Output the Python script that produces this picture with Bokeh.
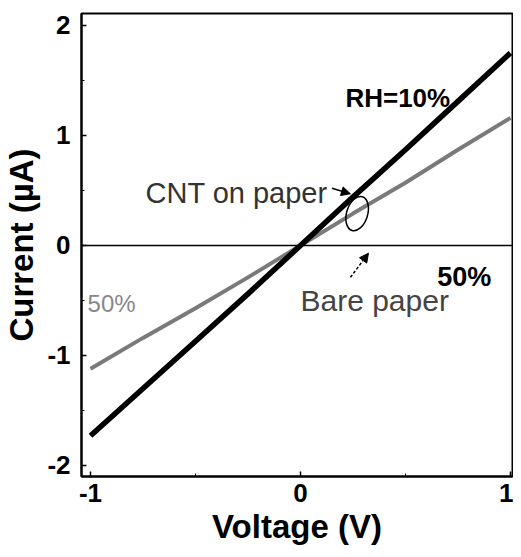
from bokeh.plotting import figure
from bokeh.models import Span, Label, Arrow, NormalHead, FixedTicker, Range1d
from bokeh.embed import file_html
from bokeh.resources import INLINE

# data
voltage = [-1.0, -0.75, -0.5, -0.25, 0.0, 0.25, 0.5, 0.75, 1.0]
current_rh10 = [-1.73, -1.30, -0.87, -0.44, 0.0, 0.44, 0.87, 1.31, 1.75]
current_rh50 = [-1.12, -0.84, -0.57, -0.29, 0.0, 0.29, 0.57, 0.87, 1.16]
x_ticks = [-1, 0, 1]
y_ticks = [-2, -1, 0, 1, 2]
x_minor = [-0.5, 0.5]
y_minor = [-1.5, -0.5, 0.5, 1.5]

FONT = "Liberation Sans"

p = figure(width=513, height=549, output_backend="svg", toolbar_location=None,
           x_range=Range1d(-1.043, 1.01), y_range=Range1d(-2.1, 2.109),
           min_border_left=81, min_border_right=1, min_border_top=13, min_border_bottom=73)
p.grid.visible = False
p.outline_line_color = "black"
p.outline_line_width = 2

for ax, ticks, minor in ((p.xaxis[0], x_ticks, x_minor), (p.yaxis[0], y_ticks, y_minor)):
    ax.ticker = FixedTicker(ticks=ticks, minor_ticks=minor)
    ax.major_label_overrides = {t: str(t) for t in ticks}
    ax.major_tick_in = 5
    ax.major_tick_out = 0
    ax.minor_tick_in = 3
    ax.minor_tick_out = 0
    ax.axis_line_width = 2
    ax.major_tick_line_width = 1.5
    ax.major_label_text_font = FONT
    ax.major_label_text_font_style = "bold"
    ax.major_label_text_font_size = "26px"
    ax.major_label_text_color = "black"
    ax.axis_label_text_font = FONT
    ax.axis_label_text_font_style = "bold"
    ax.axis_label_text_font_size = "33px"
    ax.axis_label_text_color = "black"

p.xaxis.axis_label = "Voltage (V)"
p.yaxis.axis_label = "Current (µA)"
p.xaxis.major_label_standoff = 7
p.yaxis.major_label_standoff = 11
p.xaxis.axis_label_standoff = 3
p.yaxis.axis_label_standoff = 4

p.add_layout(Span(location=0, dimension="width", line_color="black", line_width=1.5))

p.line(voltage, current_rh50, line_color="#7a7a7a", line_width=4)
p.line(voltage, current_rh10, line_color="black", line_width=5.5)

# ellipse marking the crossing
p.ellipse(x=[0.27], y=[0.29], width=[0.1], height=[0.32], angle=-0.3,
          fill_color=None, line_color="black", line_width=1.5)

p.add_layout(Arrow(end=NormalHead(size=9, fill_color="black", line_color="black"),
                   x_start=0.15, y_start=0.52, x_end=0.238, y_end=0.47,
                   line_color="black", line_width=1.5))
p.add_layout(Arrow(end=NormalHead(size=9, fill_color="black", line_color="black"),
                   x_start=0.238, y_start=-0.29, x_end=0.324, y_end=-0.07,
                   line_color="black", line_width=1.5, line_dash="3 2"))

def lab(x, y, text, size, bold=False, color="black"):
    p.add_layout(Label(x=x, y=y, text=text, text_font=FONT, text_font_size=size,
                       text_font_style="bold" if bold else "normal", text_color=color,
                       text_baseline="alphabetic"))

lab(-0.738, 0.48, "CNT on paper", "29px", color="#333333")
lab(0.0, -0.5, "Bare paper", "30px", color="#444444")
lab(0.214, 1.345, "RH=10%", "26px", bold=True)
lab(0.652, -0.29, "50%", "27px", bold=True)
lab(-1.014, -0.527, "50%", "24px", color="#888888")

open("out.html", "w").write(file_html(p, INLINE))
